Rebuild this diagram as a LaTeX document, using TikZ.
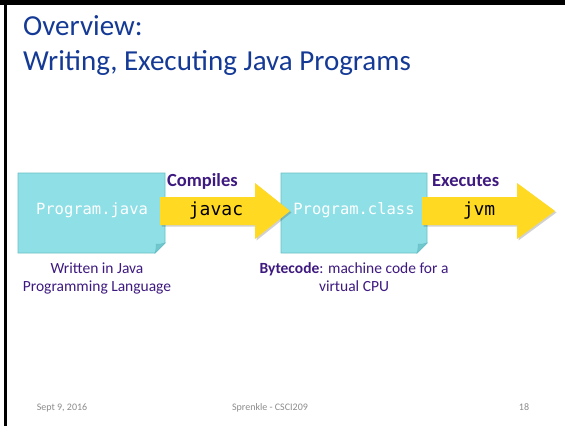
\documentclass[tikz,border=0pt]{standalone}
\usepackage{fontspec}
\setmainfont{Carlito}
\newfontfamily\codefont{DejaVu Sans Mono}
\definecolor{titleblue}{RGB}{20,58,150}
\definecolor{darkpurple}{RGB}{62,26,128}
\definecolor{boxcyan}{RGB}{142,224,230}
\definecolor{boxedge}{RGB}{104,192,198}
\definecolor{folddark}{RGB}{112,200,206}
\definecolor{arrowyellow}{RGB}{255,217,34}
\definecolor{footgray}{RGB}{140,140,140}
\tikzset{
  notebox/.style={fill=boxcyan, draw=boxedge, line width=0.8pt},
  foldpart/.style={fill=folddark, draw=boxedge, line width=0.5pt},
  blockarrow/.style={fill=arrowyellow},
  arrowshadow/.style={fill=black, opacity=0.18},
  titletext/.style={anchor=base west, text=titleblue, font=\fontsize{29}{34}\selectfont, inner sep=0pt},
  filetext/.style={text=white, font=\codefont\fontsize{15.5}{18}\selectfont, inner sep=0pt},
  tooltext/.style={text=black, font=\codefont\fontsize{18}{22}\selectfont, inner sep=0pt},
  verbtext/.style={anchor=base west, text=darkpurple, font=\bfseries\fontsize{18.5}{22}\selectfont, inner sep=0pt},
  captiontext/.style={anchor=base, text=darkpurple, font=\fontsize{15.5}{18}\selectfont, inner sep=0pt},
  foottext/.style={anchor=base, text=footgray, font=\fontsize{10}{12}\selectfont, inner sep=0pt}
}
\begin{document}
\begin{tikzpicture}[x=1pt,y=-1pt]
\useasboundingbox (0,0) rectangle (565,426);
\fill[white] (0,0) rectangle (565,426);
% slide frame
\fill[black] (0,0) rectangle (565,4.5);
\fill[black] (4,0) rectangle (6.5,426);
% title
\node[titletext] (t1) at (23,35) {Overview:};
\node[titletext] (t2) at (23,70) {Writing, Executing Java Programs};
% note boxes
\path[notebox] (18,173) -- (165,173) -- (165,243) -- (155,253) -- (18,253) -- cycle;
\path[foldpart] (165,243) -- (155,253) .. controls (156.5,249) and (156,246) .. (156,244) .. controls (159,244.5) and (162,244) .. (165,243) -- cycle;
\path[notebox] (281,173) -- (427,173) -- (427,243) -- (417,253) -- (281,253) -- cycle;
\path[foldpart] (427,243) -- (417,253) .. controls (418.5,249) and (418,246) .. (418,244) .. controls (421,244.5) and (424,244) .. (427,243) -- cycle;
\node[filetext] (pj) at (92,210) {Program.java};
\node[filetext] (pc) at (354,210) {Program.class};
% block arrows
\fill[arrowshadow] (161.5,198.5) -- (256.5,198.5) -- (256.5,184.5) -- (291.5,212.5) -- (256.5,240.5) -- (256.5,226.5) -- (161.5,226.5) -- cycle;
\fill[blockarrow] (160,197) -- (255,197) -- (255,183) -- (290,211) -- (255,239) -- (255,225) -- (160,225) -- cycle;
\fill[arrowshadow] (423.5,198.5) -- (518.5,198.5) -- (518.5,184.5) -- (556.5,212.5) -- (518.5,240.5) -- (518.5,226.5) -- (423.5,226.5) -- cycle;
\fill[blockarrow] (422,197) -- (517,197) -- (517,183) -- (555,211) -- (517,239) -- (517,225) -- (422,225) -- cycle;
\node[tooltext] (javac) at (216,211) {javac};
\node[tooltext] (jvm) at (479,211) {jvm};
\node[verbtext] (comp) at (167,186) {Compiles};
\node[verbtext] (exec) at (432,186) {Executes};
% captions
\node[captiontext] (c1a) at (97,273) {Written in Java};
\node[captiontext] (c1b) at (97,291) {Programming Language};
\node[captiontext] (c2a) at (354,273) {\textbf{Bytecode}: machine code for a};
\node[captiontext] (c2b) at (354,291) {virtual CPU};
% footer
\node[foottext] (f1) at (62,410) {Sept 9, 2016};
\node[foottext] (f2) at (270,410) {Sprenkle - CSCI209};
\node[foottext] (f3) at (524,410) {18};
\end{tikzpicture}
\end{document}
